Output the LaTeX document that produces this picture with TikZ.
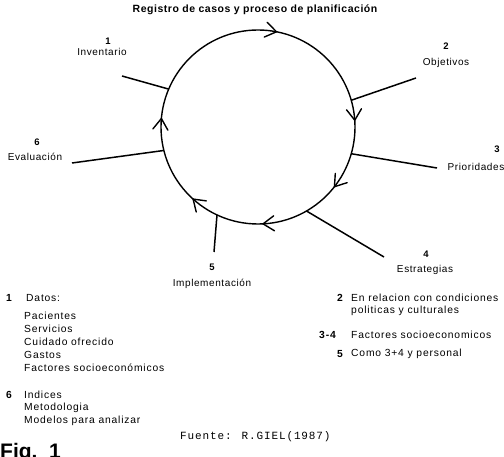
\documentclass[tikz,border=0pt]{standalone}
\usepackage{fontspec}
\setmainfont{Liberation Sans}
\newfontfamily\labf[LetterSpace=6]{Liberation Sans}
\newfontfamily\lstf[LetterSpace=8]{Liberation Sans}
\newfontfamily\titf[LetterSpace=5]{Liberation Sans}
\newfontfamily\monof[LetterSpace=8]{Liberation Mono}
\usetikzlibrary{calc}
\begin{document}
\begin{tikzpicture}[x=1pt,y=1pt,
  lbl/.style={inner sep=0pt,font=\labf\fontsize{10}{12}\selectfont},
  num/.style={inner sep=0pt,font=\labf\bfseries\fontsize{9.5}{11}\selectfont},
  lst/.style={inner sep=0pt,anchor=west,font=\lstf\fontsize{10.3}{12}\selectfont},
  lnum/.style={lst,font=\lstf\bfseries\fontsize{10.3}{12}\selectfont},
  spoke/.style={line width=1.5pt},
  ring/.style={line width=1.4pt},
  chev/.style={line width=1.4pt,line cap=round,line join=miter}]
\useasboundingbox (0,0) rectangle (504,456);
% title
\node[inner sep=0pt,font=\titf\bfseries\fontsize{10.5}{12}\selectfont] (title) at (255,446) {Registro de casos y proceso de planificación};
% circle
\coordinate (c) at (258,329);
\draw[ring] (c) circle[radius=97];
% chevrons (clockwise)
\foreach \a in {79,4,-38,-87,-132,175}{
  \draw[chev,shift={($(c)+(\a:97)$)},rotate=\a-90] (-11,7.5) -- (0,0) -- (-11,-7.5);
}
% spoke points on circle
\coordinate (p1) at ($(c)+(157:97)$);
\coordinate (p2) at ($(c)+(16:97)$);
\coordinate (p3) at ($(c)+(-16:97)$);
\coordinate (p4) at ($(c)+(-60:97)$);
\coordinate (p5) at ($(c)+(-115:97)$);
\coordinate (p6) at ($(c)+(194:97)$);
\coordinate (e1) at (122,380);
\coordinate (e2) at (416,378);
\coordinate (e3) at (437,288);
\coordinate (e4) at (384,199);
\coordinate (e5) at (214,204);
\coordinate (e6) at (72,293);
\foreach \i in {1,...,6}{\draw[spoke] (p\i) -- (e\i);}
% labels
\node[num] (k1) at (108,415) {1};
\node[lbl] (l1) at (102,404) {Inventario};
\node[num] (k2) at (446,410) {2};
\node[lbl] (l2) at (446,393) {Objetivos};
\node[num] (k3) at (497,307) {3};
\node[lbl] (l3) at (476,289) {Prioridades};
\node[num] (k4) at (426,202) {4};
\node[lbl] (l4) at (425,186) {Estrategias};
\node[num] (k5) at (212,189) {5};
\node[lbl] (l5) at (212,172) {Implementación};
\node[num] (k6) at (37,314) {6};
\node[lbl] (l6) at (35,299) {Evaluación};
% left list
\node[lnum] (a1) at (6,158) {1};
\node[lst] (a1t) at (26,158) {Datos:};
\node[lst] (a2) at (24,140) {Pacientes};
\node[lst] (a3) at (24,127) {Servicios};
\node[lst] (a4) at (24,114) {Cuidado ofrecido};
\node[lst] (a5) at (24,101) {Gastos};
\node[lst] (a6) at (24,88) {Factores socioeconómicos};
\node[lnum] (b1) at (6,61) {6};
\node[lst] (b1t) at (24,61) {Indices};
\node[lst] (b2) at (24,48) {Metodologia};
\node[lst] (b3) at (24,35) {Modelos para analizar};
% right list
\node[lnum] (r1) at (337,158) {2};
\node[lst] (r1t) at (351,158) {En relacion con condiciones};
\node[lst] (r2) at (351,145) {politicas y culturales};
\node[lnum] (r3) at (319,121) {3-4};
\node[lst] (r3t) at (351,121) {Factores socioeconomicos};
\node[lnum] (r4) at (337,102) {5};
\node[lst] (r4t) at (351,102) {Como 3+4 y personal};
% source and figure
\node[inner sep=0pt,anchor=west,font=\monof\fontsize{11}{13}\selectfont] (src) at (180,19) {Fuente: R.GIEL(1987)};
\node[inner sep=0pt,anchor=base west,font=\bfseries\fontsize{21}{24}\selectfont] (fig) at (0,-2) {Fig.\ \ 1};
\end{tikzpicture}
\end{document}
